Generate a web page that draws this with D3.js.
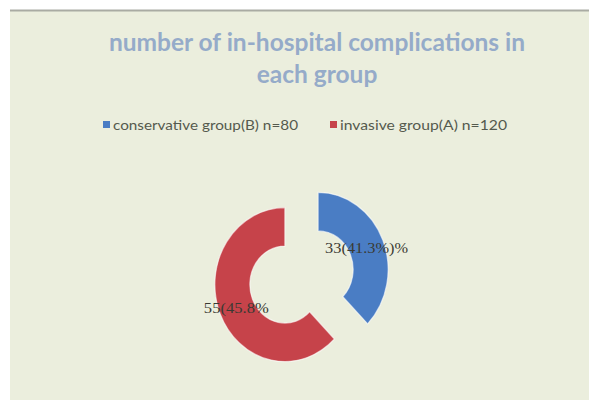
<!DOCTYPE html>
<html>
<head>
<meta charset="utf-8">
<script src="https://cdn.jsdelivr.net/npm/d3@7/dist/d3.min.js"></script>
<style>
  html, body { margin: 0; padding: 0; background: #ffffff; }
  svg { display: block; }
</style>
</head>
<body>
<svg id="chart" width="589" height="400"></svg>
<script>
// Chart data
const titleLines = ["number of in-hospital complications in", "each group"];
const groups = ["conservative group(B) n=80", "invasive group(A) n=120"];
const complications = [33, 55];
const labels = ["33(41.3%)%", "55(45.8%"];
const colors = ["#4a7dc4", "#c6434a"];

const svg = d3.select("#chart");
const W = 589, H = 400;

// Plot area panel
svg.append("rect")
  .attr("x", 10).attr("y", 10).attr("width", W - 10).attr("height", H - 10)
  .attr("fill", "#ebeedd");
svg.append("line")
  .attr("x1", 10).attr("x2", W).attr("y1", 10.5).attr("y2", 10.5)
  .attr("stroke", "#a9aba3").attr("stroke-width", 2);

// Title
svg.append("g").selectAll("text")
  .data(titleLines)
  .join("text")
  .attr("x", 317)
  .attr("y", (d, i) => 51 + i * 32)
  .attr("text-anchor", "middle")
  .attr("font-family", "Lato, 'Open Sans', sans-serif")
  .attr("font-weight", "bold")
  .attr("font-size", 24.5)
  .attr("fill", "#95abc9")
  .text(d => d);

// Legend
const legendX = [103, 330];
const legendW = [185, 167];
const legend = svg.append("g").selectAll("g")
  .data(groups)
  .join("g")
  .attr("transform", (d, i) => `translate(${legendX[i]},125)`);
legend.append("rect")
  .attr("x", 0).attr("y", -4).attr("width", 7).attr("height", 7)
  .attr("fill", (d, i) => colors[i]);
legend.append("text")
  .attr("x", 10).attr("y", 4.5)
  .attr("font-family", "Lato, 'Open Sans', sans-serif")
  .attr("font-size", 13.5)
  .attr("fill", "#555a4e")
  .attr("textLength", (d, i) => legendW[i])
  .attr("lengthAdjust", "spacingAndGlyphs")
  .text(d => d);

// Exploded doughnut
const outerR = 70, innerR = 35, explode = 18;
const pie = d3.pie().sort(null).value(d => d);
const arc = d3.arc().innerRadius(innerR).outerRadius(outerR);
const arcs = pie(complications);

const donut = svg.append("g")
  .attr("transform", "translate(301.5,277) scale(1,1.1)");

const slice = donut.selectAll("g.slice")
  .data(arcs)
  .join("g")
  .attr("class", "slice")
  .attr("transform", d => {
    const mid = (d.startAngle + d.endAngle) / 2;
    return `translate(${Math.sin(mid) * explode},${-Math.cos(mid) * explode})`;
  });

slice.append("path")
  .attr("d", arc)
  .attr("fill", (d, i) => colors[i])
  .attr("stroke", "#ffffff")
  .attr("stroke-opacity", 0.6)
  .attr("stroke-width", 1.2);

// Data labels at slice centroids (kept unscaled)
const labelW = [83, 65];
svg.append("g").selectAll("text")
  .data(arcs)
  .join("text")
  .attr("x", d => {
    const mid = (d.startAngle + d.endAngle) / 2;
    return 301.5 + arc.centroid(d)[0] + Math.sin(mid) * explode - labelW[d.index] / 2;
  })
  .attr("y", d => {
    const mid = (d.startAngle + d.endAngle) / 2;
    return 277 + (arc.centroid(d)[1] - Math.cos(mid) * explode) * 1.1 + 6;
  })
  .attr("font-family", "'Liberation Serif', serif")
  .attr("font-size", 14.5)
  .attr("fill", "#3a3a33")
  .attr("textLength", d => labelW[d.index])
  .attr("lengthAdjust", "spacingAndGlyphs")
  .text((d, i) => labels[i]);
</script>
</body>
</html>
